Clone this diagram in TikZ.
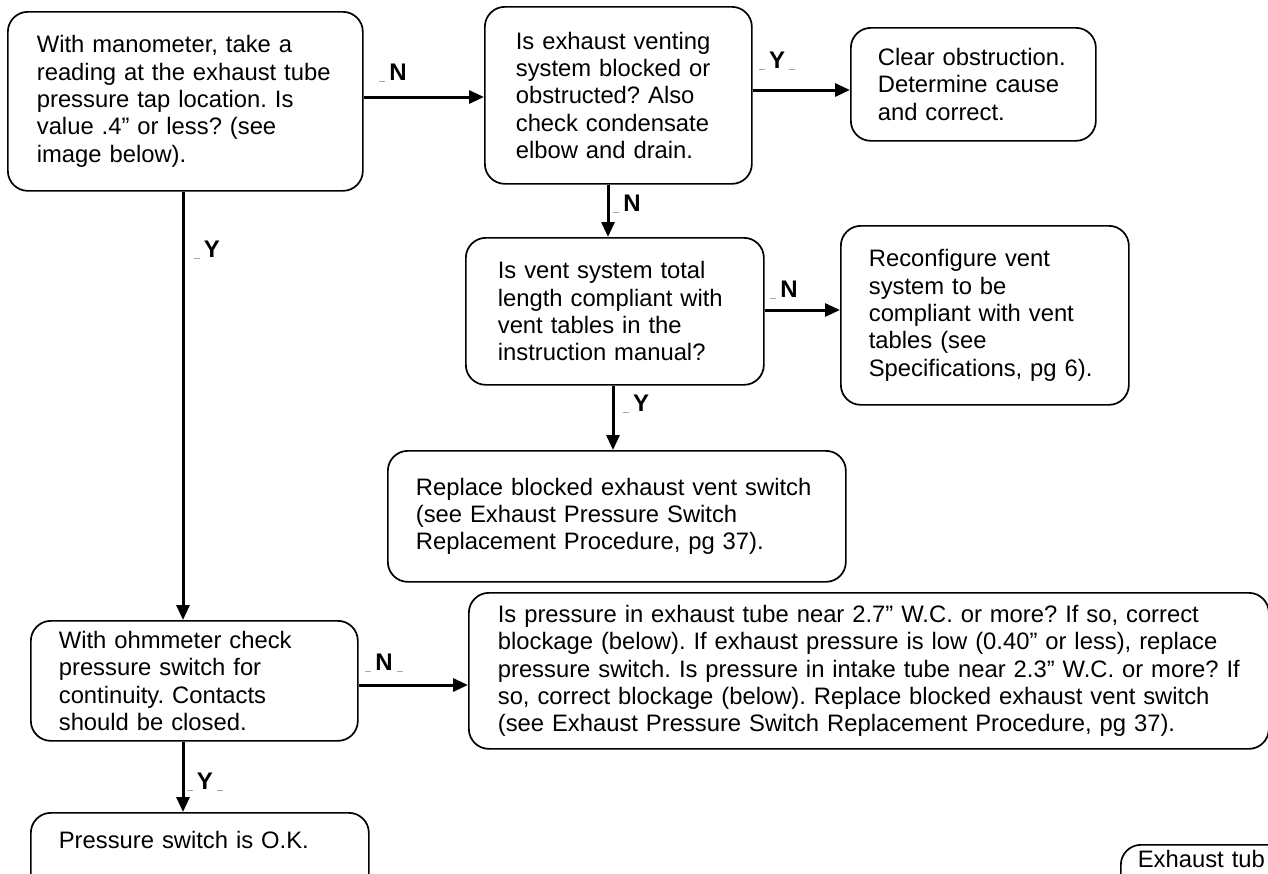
\documentclass[tikz,border=0pt]{standalone}
\usepackage{fontspec}
\setmainfont{Liberation Sans}
\usetikzlibrary{arrows.meta}
\newcommand{\mk}{\textcolor{black!35}{\rule[-1pt]{6pt}{1.2pt}}}
\begin{document}
\frenchspacing
\begin{tikzpicture}[x=1pt,y=-1pt,
  box/.style={draw, line width=1.7pt, rounded corners=20pt, anchor=north west, align=left, inner ysep=2pt, font=\fontsize{23.8}{27.3}\selectfont\frenchspacing},
  arr/.style={line width=3pt, -{Triangle[length=15pt,width=13pt]}},
  lab/.style={font=\fontsize{24}{28}\selectfont\bfseries, inner sep=0pt}]
\useasboundingbox (0,0) rectangle (1268,873);

\node[box, minimum width=355pt, minimum height=179pt, inner xsep=29pt, text width=297pt] (b1) at (7,11)
  {With manometer, take a\\reading at the exhaust tube\\pressure tap location. Is\\value .4” or less? (see\\image below).};
\node[box, minimum width=267pt, minimum height=177pt, inner xsep=31pt, text width=205pt] (b2) at (484,6)
  {Is exhaust venting\\system blocked or\\obstructed? Also\\check condensate\\elbow and drain.};
\node[box, minimum width=245pt, minimum height=113pt, inner xsep=27pt, text width=191pt] (b3) at (850,27)
  {Clear obstruction.\\Determine cause\\and correct.};
\node[box, minimum width=298pt, minimum height=147pt, inner xsep=32pt, text width=234pt] (b4) at (465,237)
  {Is vent system total\\length compliant with\\vent tables in the\\instruction manual?};
\node[box, minimum width=288pt, minimum height=179pt, inner xsep=28pt, text width=232pt] (b5) at (840,225)
  {Reconfigure vent\\system to be\\compliant with vent\\tables (see\\Specifications, pg 6).};
\node[box, minimum width=458pt, minimum height=131pt, inner xsep=28pt, text width=402pt] (b6) at (387,450)
  {Replace blocked exhaust vent switch\\(see Exhaust Pressure Switch\\Replacement Procedure, pg 37).};
\node[box, minimum width=327pt, minimum height=120pt, inner xsep=28pt, text width=271pt] (b7) at (30,620)
  {With ohmmeter check\\pressure switch for\\continuity. Contacts\\should be closed.};
\node[box, minimum width=800pt, minimum height=156pt, inner xsep=29pt, text width=742pt] (b8) at (468,592)
  {\mbox{Is pressure in exhaust tube near 2.7” W.C. or more? If so, correct}\\\mbox{blockage (below). If exhaust pressure is low (0.40” or less), replace}\\\mbox{pressure switch. Is pressure in intake tube near 2.3” W.C. or more? If}\\\mbox{so, correct blockage (below). Replace blocked exhaust vent switch}\\\mbox{(see Exhaust Pressure Switch Replacement Procedure, pg 37).}};
\node[box, minimum width=338pt, minimum height=100pt, inner xsep=28pt, text width=282pt] (b9) at (30,812)
  {Pressure switch is O.K.\rule[-45pt]{0pt}{45pt}};
\node[box, minimum width=300pt, minimum height=110pt, inner xsep=17pt, text width=266pt] (b10) at (1120,844)
  {Exhaust tub\rule[-81pt]{0pt}{81pt}};

\draw[arr] (b1.east |- 0,97) -- (b2.west |- 0,97);
\draw[arr] (b2.east |- 0,90) -- (b3.west |- 0,90);
\draw[arr] (b2.south -| 608,0) -- (b4.north -| 608,0);
\draw[arr] (b4.east |- 0,310) -- (b5.west |- 0,310);
\draw[arr] (b4.south -| 613,0) -- (b6.north -| 613,0);
\draw[arr] (b1.south -| 183,0) -- (b7.north -| 183,0);
\draw[arr] (b7.east |- 0,685) -- (b8.west |- 0,685);
\draw[arr] (b7.south -| 183,0) -- (b9.north -| 183,0);

\node[lab] (ln1) at (393,73) {\mk\,N};
\node[lab] (ly2) at (777,61) {\mk\,Y\,\mk};
\node[lab] (ly1) at (207,250) {\mk\,Y};
\node[lab] (ln2) at (627,204) {\mk\,N};
\node[lab] (ln4) at (784,290) {\mk\,N};
\node[lab] (ly4) at (636,404) {\mk\,Y};
\node[lab] (ln7) at (384,663) {\mk\,N\,\mk};
\node[lab] (ly7) at (205,782) {\mk\,Y\,\mk};
\end{tikzpicture}
\end{document}
